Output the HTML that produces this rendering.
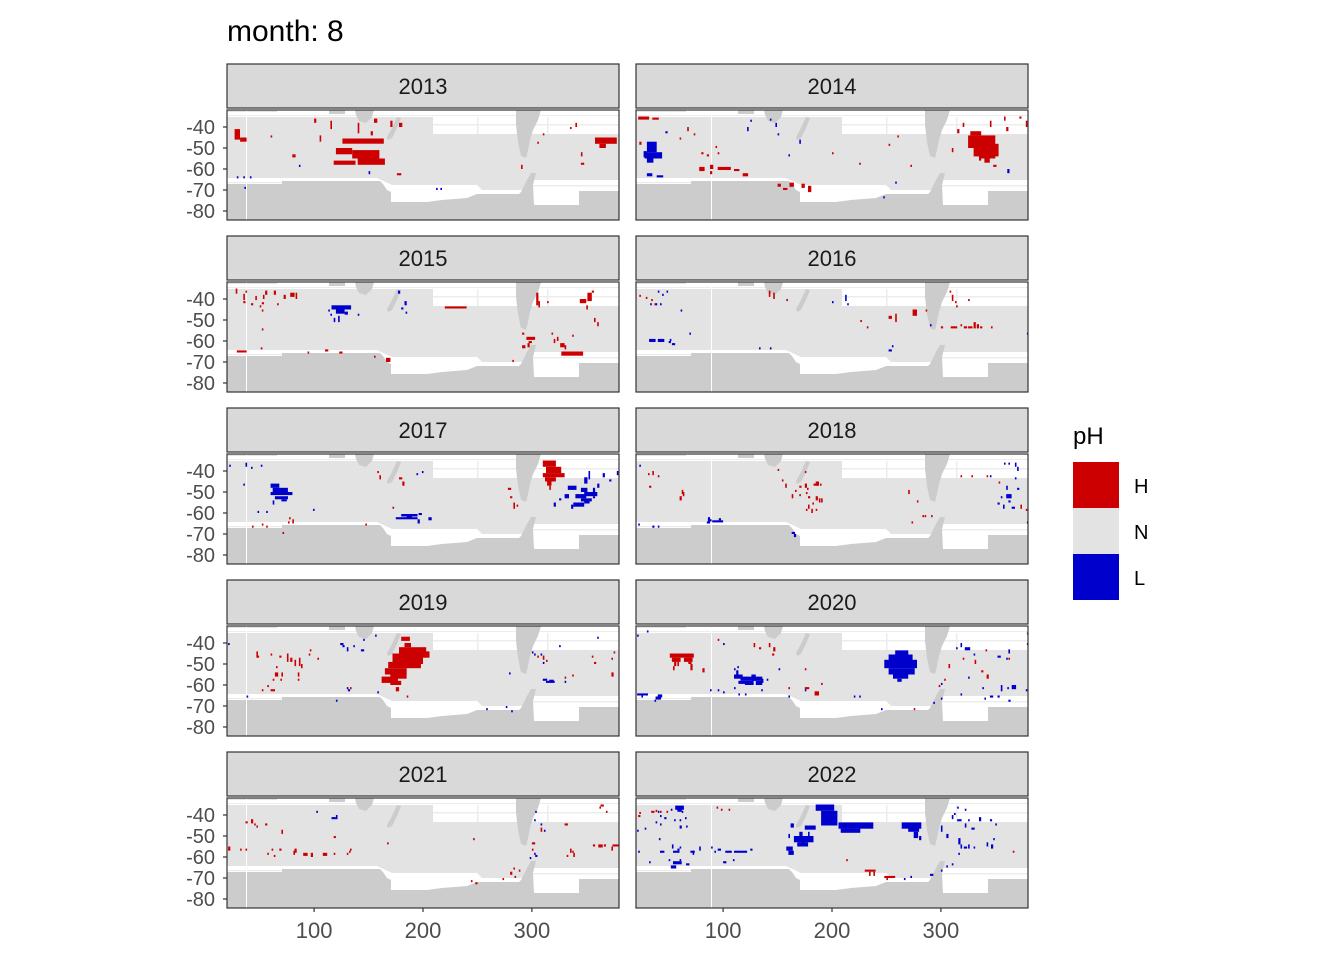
<!DOCTYPE html>
<html><head><meta charset="utf-8"><style>
body{margin:0;background:#fff;}
svg{display:block;font-family:"Liberation Sans",sans-serif;}
</style></head><body>
<svg id="chart" width="1344" height="960" viewBox="0 0 1344 960">
<text x="227" y="41" font-size="30" fill="#000">month: 8</text>
<g id="panels"></g>
<g>
<text x="1073" y="444" font-size="24" fill="#000">pH</text>
<rect x="1073" y="462" width="46" height="46" fill="#cc0000"/>
<rect x="1073" y="508" width="46" height="46" fill="#e3e3e3"/>
<rect x="1073" y="554" width="46" height="46" fill="#0000cc"/>
<text x="1134" y="493" font-size="20" fill="#000">H</text>
<text x="1134" y="539" font-size="20" fill="#000">N</text>
<text x="1134" y="585" font-size="20" fill="#000">L</text>
</g>
</svg>
<script>
const years = [2013,2014,2015,2016,2017,2018,2019,2020,2021,2022];
const yTicks = [-40,-50,-60,-70,-80];
const xTicks = [100,200,300];
// high-pH cells per panel: [lon, topLat, widthDeg, heightDeg]
const high2013 = [[27,-41,5,5],[32,-45,6,2],[126,-45.5,38,2.5],[120,-50,15,3],[135,-51,25,4],[118,-56,20,2],[140,-55,25,3],[100,-36,2,2],[115,-37,1,4],[140,-38,1,5],[155,-36,3,2],[170,-37,2,3],[178,-38,3,2],[152,-42,2,2],[358,-45,20,3],[362,-48,6,2],[80,-53,3,1.5],[176,-62,4,1],[105,-44,1,3],[60,-44,1,1],[310,-43,1,1],[305,-47,1,1],[345,-52,1,2],[290,-58,1,2],[345,-57,3,1],[340,-38,1,2],[335,-40,1,1]];
const low2013 = [[29,-63.5,1.5,1],[35,-63.5,1.5,1],[41,-63.5,1.5,1],[36,-68.5,1,1],[86,-58,1.5,1],[150,-61,1.5,1.5],[212,-69,1,1],[216,-69,1,1]];
const high2014 = [[325,-44,25,6],[330,-48,23,6],[335,-52,15,3],[340,-55,5,2],[327,-42,10,2],[315,-41,2,2],[360,-40,2,2],[358,-35,1,2],[378,-37,1,3],[320,-38,1,2],[345,-37,1,3],[310,-50,1,2],[335,-54,2,2],[348,-58,3,1],[372,-35,2,1],[22,-35,10,1.5],[35,-35.5,6,1],[23,-47,2,1.5],[78,-59,5,2],[88,-58,3,2],[95,-59,12,1.5],[110,-60,5,1],[118,-62,5,1.5],[88,-61,2,1.5],[150,-67,3,1.5],[155,-69,4,1],[161,-66.5,4,2],[172,-67,3,2],[178,-68,3,3],[80,-52,2,1],[85,-53,2,1],[73,-43,1,1],[60,-45,1,1],[67,-40,1,2],[93,-49,1,1],[95,-52,1,1],[200,-52,1,1],[225,-57,1,1],[260,-44,1,1],[272,-58,1,1],[252,-48,1,1]];
const low2014 = [[30,-47,9,5],[28,-52,16,3],[30,-55,6,2],[27,-51.5,3,3],[30,-62,5,1.5],[39,-63,6,1],[47,-42,2,1],[143,-36,1,1],[148,-38,1,2],[150,-43,1,1],[125,-36.5,1,1],[122,-40,1,2],[170,-46,1,2],[160,-53,1,1],[258,-66,1.5,1],[361,-60,2,2],[247,-73,1,1]];
const high2015 = [[28,-35,1.5,2.5],[37,-36,1,1],[35,-37.5,1,3],[46,-38.5,1,2],[53,-38,1,2],[55,-36,2,2],[63,-36,2,2],[72,-38,2,2],[78,-37,4,2],[83,-37,1,3],[35,-41,2,1],[42,-42,2,1],[50,-43,1,1],[52,-41.5,2,1],[66,-42,1,1],[52,-45,1,1],[52,-54,1,1],[220,-43.5,20,1],[304,-37,2,6],[306,-41,1,3],[314,-41,1,1],[344,-40,6,2],[351,-37,4,4],[355,-36,2,1],[350,-43,1,2],[360,-51,1,2],[357,-49,1,2],[291,-56,2,1],[295,-58,8,1.5],[297,-60,3,1],[291,-62,3,1.5],[296,-61,2,2],[323,-58,1,2],[326,-61,4,2],[330,-62,1,2],[327,-65,20,2],[320,-59,1,2],[337,-57,1,1],[318,-56,1,1],[29,-64.5,9,1],[51,-63,1,1],[94,-65,1,1],[110,-64,3,1],[123,-65,3,1],[155,-67,1,1],[166,-68,4,2],[282,-69,1,1]];
const low2015 = [[116,-43,18,2],[120,-45,8,2],[128,-46,3,1.5],[122,-48,1,3],[115,-47,1,1],[140,-47,1.5,1],[113,-45,1,1],[118,-49,1,2],[177,-36,2,1.5],[183,-41,2,2],[180,-44,2,1],[184,-46,1,1]];
const high2016 = [[23,-38,1,1],[29,-39,1,1],[34,-40,1,1],[37,-42,1,1],[142,-36,1,3],[146,-37,1,3],[158,-40,1,1],[274,-45,4,3],[252,-48,3,1.5],[258,-47,1,4],[226,-50,1,1],[232,-53,1,1],[308,-36,1,1],[310,-38,1,3],[325,-40,1,1],[313,-41,1,1],[314,-43,1,1],[286,-45,1,1],[300,-53,2,1],[309,-53,6,1],[318,-52,1,1],[321,-53,3,1],[325,-53,4,1],[330,-51,2,3],[333,-52,2,2],[336,-53,2,1],[346,-53,1,1]];
const low2016 = [[40,-36,1,1],[48,-36,1,1],[44,-37.5,1,1],[33,-42,1,1],[38,-42,1,1],[42,-42,1,1],[61,-45,1,1],[32,-59,4,1.5],[36,-59,2,1.5],[40,-59,6,1.5],[50,-60,2,1],[51,-59,1,1],[53,-61,3,1],[69,-56,1,1],[133,-63,1,1],[143,-63,1,1],[252,-64,3,1],[255,-62,1,1],[290,-52,1,1],[212,-38,1,3],[214,-42,1,1],[200,-41,1,1],[379,-56,1,1]];
const high2017 = [[310,-35,12,3],[313,-38,14,3],[310,-41,20,2],[312,-43,10,2],[314,-45,4,2],[316,-47,1,2],[278,-48,3,1],[280,-52,2,1],[283,-55,1,3],[286,-56,1,1],[160,-42,1,2],[158,-40,1,1],[178,-43,3,1],[181,-45,2,2],[172,-57,1,1],[147,-65,1,1],[80,-63,1,2],[77,-62,1,1],[76,-64,1,1],[52,-65,1,1],[56,-66,1,1],[71,-69,1,1],[43,-66,1,1]];
const low2017 = [[60,-46,8,2],[62,-48,14,2],[60,-50,20,1.5],[64,-52,12,1.5],[70,-53.5,5,1],[62,-54,1,2],[73,-49,1,1],[22,-37,1,1],[37,-36,1,2],[42,-38,1,1],[51,-37,1,1],[35,-46,1,1],[48,-59,1,1],[56,-59,1,1],[99,-58,1,1],[199,-40,1,1],[194,-41,1,1],[180,-60.5,15,1.2],[175,-62,20,1],[185,-61,5,1.5],[195,-63,2,2],[205,-62,3,1.5],[196,-60,3,1],[348,-43,3,3],[352,-40,1,4],[333,-47,8,2],[345,-48,6,2],[340,-51,10,2],[348,-50,12,2],[345,-53,10,1.5],[330,-51,4,2],[338,-55,10,2],[348,-54,5,1.5],[336,-56,2,2],[325,-53,2,1],[320,-55,2,2],[356,-52,2,1],[356,-48,2,2],[360,-46,2,2],[371,-44,2,1],[365,-41,2,2],[378,-40,1,2]];
const high2018 = [[31,-41,1,1],[35,-40,1,2],[40,-42,1,1],[32,-47,2,1],[62,-49,1,2],[63,-50,1,2],[60,-52,2,2],[154,-44,1,1],[157,-46,1,2],[166,-49,1,1],[170,-47,2,1],[175,-46,2,2],[177,-48,1,1],[176,-50,1,1],[163,-51,1,2],[170,-51,1,1],[178,-52,2,1],[183,-46,5,1],[185,-45,3,2],[189,-46,1,1],[178,-56,1,2],[182,-55,1,1],[188,-53,1,2],[190,-53,1,2],[185,-52,2,2],[181,-58,1,2],[176,-58,1,1],[185,-58,1,1],[150,-39,1,1],[175,-40,1,1],[270,-49,1,2],[278,-54,1,1],[285,-61,1,1],[291,-61,1,1],[283,-61,1,1],[318,-42,1,1],[328,-42,1,1],[342,-42,1,1],[353,-45,1,1],[373,-56,1,2],[378,-58,1,1],[273,-64,1,1]];
const low2018 = [[23,-37,1,1],[22,-65,1,1],[35,-66,2,1],[40,-66,1,1],[85,-64,3,1],[88,-63,1,1],[86,-62,2,2],[90,-63.5,10,1],[96,-62.5,2,1],[163,-69,3,1],[165,-70,2,1.5],[358,-36,1,1],[362,-36,1,1],[368,-36,1,2],[370,-38,1,2],[368,-43,1,1],[345,-42,1,1],[360,-47,1,2],[355,-52,1,1],[360,-51,5,2],[370,-48,2,1],[362,-54,2,1],[352,-55,2,1],[357,-56,1,2],[365,-57,3,1],[379,-64,1,1]];
const high2019 = [[180,-37,8,2],[183,-40,6,2],[178,-42,25,3],[172,-45,28,5],[168,-49,30,3],[165,-52,20,3],[170,-55,15,2],[162,-56,15,3],[170,-58,10,2],[175,-61,3,2],[188,-44,18,3],[195,-47,5,2],[47,-44,1,3],[48,-46,1,1],[60,-45,1,1],[68,-46,2,1],[75,-45,1,4],[78,-47,2,2],[82,-48,1,3],[86,-47,1,4],[88,-50,1,2],[65,-51,1,1],[64,-54,3,2],[70,-54,1,2],[85,-54,1,2],[95,-45,1,1],[96,-43,1,1],[103,-47,1,1],[62,-57,1,1],[60,-62,4,1],[57,-60,1,1],[85,-57,1,1],[69,-57,1,1],[305,-46,1,1],[310,-46,1,2],[313,-48,1,1],[330,-56,1,1],[337,-55,1,1],[355,-46,1,1],[357,-49,2,1],[373,-47,1,1],[375,-44,1,1],[373,-54,2,2],[52,-62,1,1],[133,-61,1,1],[185,-65,1,1]];
const low2019 = [[124,-40,3,1],[126,-41,2,1],[130,-42,1,2],[136,-41,1,1],[143,-43,3,1],[145,-38,1,1],[156,-36,1,1],[360,-37,1,1],[300,-44,1,1],[302,-45,1,1],[308,-45,1,1],[325,-41,1,1],[310,-49,1,1],[279,-54,1,1],[310,-57,4,1],[313,-58,8,1],[316,-57.5,4,1],[330,-58,1,1],[21,-40,1,1],[38,-65,1,1],[130,-61,1,1],[131,-62,2,1],[120,-67,1,1],[158,-63,1,1],[258,-71,1,1],[276,-70,1,1],[281,-72,1,1]];
const high2020 = [[51,-45,22,2],[53,-47,8,2],[64,-47,8,2],[55,-49,2,2],[68,-49,3,1],[70,-50,2,3],[54,-51,1,2],[58,-49,1,2],[81,-52,2,2],[95,-38,1,1],[128,-40,1,2],[133,-42,2,1],[142,-40,1,2],[146,-42,2,2],[145,-45,2,1],[175,-52,1,1],[160,-61,1,1],[175,-61,4,1],[184,-63,4,2],[190,-59,1,1],[298,-60,1,1],[303,-57,1,1],[307,-50,1,2],[320,-47,1,1],[337,-53,2,1],[342,-55,2,2],[331,-48,1,2],[341,-43,1,1],[362,-47,1,1],[379,-35,1,1],[275,-71,1,1]];
const low2020 = [[258,-43.5,12,2],[252,-45.5,22,3],[248,-48,30,4],[252,-52,24,3],[256,-55,14,2],[260,-57,4,1.5],[112,-53,2,2],[110,-55,8,2],[116,-56,20,2],[126,-55,4,3],[114,-58,14,1.5],[130,-58,6,2],[120,-59,8,1],[135,-57,2,2],[140,-57,1,1],[21,-64,10,1],[25,-65,1,1],[40,-64.5,4,1.5],[38,-65.5,5,1.5],[37,-67,1,1],[21,-36,1,1],[30,-34,1,1],[100,-40,1,1],[110,-52,1,1],[113,-51,1,1],[151,-52,1,1],[88,-62,1,1],[95,-62,1,1],[100,-63,1,1],[110,-61,1,1],[114,-64,1,1],[120,-64,1,1],[135,-62,1,1],[160,-65,1,1],[175,-62,1,1],[220,-65,1,1],[225,-65,1,1],[245,-71,1,1],[314,-42,1,1],[318,-40,1,2],[322,-42,5,1.5],[330,-45,1,1],[352,-46,3,1],[360,-47,1,1],[362,-43,1,2],[379,-40,1,1],[325,-56,1,1],[338,-61,1,1],[345,-65,3,1],[355,-60,1,3],[352,-65,2,1],[361,-61,1,1],[365,-60,4,2],[378,-62,1,1],[362,-67,2,1],[318,-64,1,1],[340,-66,1,1],[300,-66,1,1],[300,-59,1,1],[293,-68,1,1]];
const high2021 = [[37,-43,2,1],[42,-42,2,2],[45,-44,1,1],[47,-45,1,1],[55,-44,2,1],[70,-47,1,2],[118,-50,2,1],[133,-56,1,1],[21,-55,2,2],[32,-56,1,1],[37,-56,1,1],[68,-56,2,1],[82,-56,2,2],[81,-57,1,2],[90,-58,4,1.5],[97,-58,2,2],[108,-58,4,1.5],[118,-58,1,1],[130,-58,1,1],[61,-56,1,1],[57,-58,1,1],[63,-59,1,1],[167,-53,1,1],[132,-57,1,1],[330,-44,3,1],[308,-46,1,2],[246,-51,1,1],[300,-53,3,1],[300,-56,1,1],[363,-35,3,1],[362,-36,1,1],[368,-38,1,1],[361,-54,4,1.5],[356,-54,2,1],[366,-54,2,1],[374,-54,6,1],[373,-55,1,2],[335,-56,1,2],[337,-57,1,1],[332,-59,1,1],[338,-58,1,2],[280,-67,2,1.5],[283,-65,1,1],[288,-66,1,1],[244,-71,1,1],[248,-72,2,1],[273,-70,1,1],[284,-69,1,1]];
const low2021 = [[102,-38,1,1],[116,-41,4,1],[120,-40,1,2],[303,-38,1,1],[302,-42,1,1],[308,-44,1,1],[311,-47,1,1],[303,-59,2,1],[302,-58,1,1],[298,-60,1,1]];
const high2022 = [[23,-38.5,1,1],[22,-40,2,1],[34,-38,3,1],[38,-37.5,1,1],[42,-38,1,1],[48,-38,1,1],[94,-36,1,1],[98,-37,1,1],[105,-37,1,1],[213,-61,1,1],[230,-66,10,1],[234,-67,1,2],[238,-67,1,2],[248,-69,10,1],[250,-70,1,1],[366,-57,1,1]];
const low2022 = [[185,-35,17,3],[190,-38,15,7],[206,-43.5,32,3],[208,-46.5,18,2],[162,-44,3,2],[175,-45,10,2],[170,-48,3,2],[165,-50,18,3],[168,-53,10,2],[158,-55,6,2],[160,-57,5,2],[172,-51,3,3],[160,-49,1,2],[178,-48,1,2],[264,-43.5,18,3],[270,-46,10,2],[275,-48,4,3],[280,-50,2,2],[56,-35.5,8,2],[58,-37,4,1.5],[62,-38,1,1],[52,-37,1,1],[40,-38,1,1],[42,-40,1,1],[46,-41,2,1],[55,-42,1,1],[65,-41,1,1],[60,-42,1,1],[38,-43,1,1],[42,-44,1,1],[60,-45,2,1.5],[66,-45,1,1],[21,-47,1,1],[28,-46,1,1],[41,-51,1,1],[53,-54,1,2],[60,-55,1,1],[54,-57,6,1],[42,-57,4,1],[58,-56,2,1],[70,-57,4,1],[78,-55,1,2],[72,-57,1,2],[89,-55,1,1],[92,-57,1,1],[102,-57,6,1],[110,-57,12,1],[95,-56,3,1],[125,-56,2,1],[50,-61,1,1],[54,-62,8,1.5],[60,-61,1,1],[66,-63,3,1],[52,-64,5,1.5],[100,-62,3,1],[109,-61,1,1],[22,-57,1,1],[32,-62,1,1],[310,-40,1,2],[315,-42,4,1],[322,-44,1,2],[325,-42,1,1],[335,-41,2,2],[328,-46,3,1],[345,-42,2,1],[350,-44,1,1],[300,-45,1,3],[305,-49,2,2],[316,-51,2,3],[318,-54,1,2],[321,-55,3,1],[325,-54,1,2],[330,-55,1,1],[342,-53,1,2],[346,-54,2,2],[316,-58,1,1],[310,-63,1,1],[305,-64,1,1],[300,-66,1,1],[290,-68,3,1],[272,-69,1,1],[266,-70,1,1],[348,-51,1,1],[315,-36,1,1],[322,-37,1,1],[312,-39,1,1]];
const highCells = [high2013,high2014,high2015,high2016,high2017,high2018,high2019,high2020,high2021,high2022];
const lowCells = [low2013,low2014,low2015,low2016,low2017,low2018,low2019,low2020,low2021,low2022];

const NS='http://www.w3.org/2000/svg';
const PW=392, PH=110, LON0=20, LON1=380, LAT0=-31.9, LAT1=-84.3;
const xs = lon => (lon-LON0)/(LON1-LON0)*PW;
const ys = lat => (LAT0-lat)/(LAT0-LAT1)*PH;
function mk(tag, attrs, parent){const e=document.createElementNS(NS,tag);for(const k in attrs)e.setAttribute(k,attrs[k]);parent.appendChild(e);return e;}
const root=document.getElementById('panels');

years.forEach((yr,i)=>{
  const col=i%2,row=Math.floor(i/2);
  const px=col===0?227:636, sy=64+row*172, py=sy+46;
  const g=mk('g',{transform:`translate(${px},${py})`},root);
  
  
  const st=mk('rect',{x:px,y:sy,width:PW,height:44,fill:'#d9d9d9',stroke:'#333',"stroke-width":1.2},root);
  
  
  const stt=mk('text',{x:px+PW/2,y:sy+30,"text-anchor":"middle","font-size":"22",fill:'#1a1a1a'},root);
  stt.textContent=yr;
  
  
  const bm=mk('g',{},g);
  
  
  mk('rect',{x:0,y:0,width:PW,height:PH,fill:'#e3e3e3'},bm);
  mk('rect',{x:0,y:0,width:PW,height:7,fill:'#fff'},bm);
  mk('rect',{x:0,y:5,width:PW,height:1,fill:'#ececec'},bm);
  mk('rect',{x:0,y:0,width:50,height:2,fill:'#e3e3e3'},bm);
  mk('rect',{x:206,y:7,width:186,height:17,fill:'#fff'},bm);
  mk('rect',{x:206,y:14,width:186,height:1.5,fill:'#ececec'},bm);
  mk('rect',{x:250,y:7,width:1.5,height:17,fill:'#ececec'},bm);
  mk('rect',{x:320,y:7,width:1.5,height:17,fill:'#ececec'},bm);
  mk('polygon',{points:'0,68 150,68 165,75 250,75 255,80 300,80 300,70 392,70 392,97 0,97',fill:'#fff'},bm);
  mk('rect',{x:306,y:75,width:86,height:1.5,fill:'#ececec'},bm);
  mk('rect',{x:0,y:72,width:55,height:1.2,fill:'#ececec'},bm);
  mk('polygon',{points:'0,74 55,74 55,71 153,71 156,74 160,80 164,82 164,92 200,92 215,90 240,88 250,84 292,84 294,82 300,70 304,63 309,63 306,75 307,95 352,95 352,81 392,81 392,110 0,110',fill:'#cccccc'},bm);
  mk('rect',{x:102,y:0,width:16,height:4,fill:'#cccccc'},bm);
  mk('polygon',{points:'128,0 147,0 145,7 139,13 132,11 129,5',fill:'#cccccc'},bm);
  mk('polygon',{points:'170,7 174,8 170,18 165,28 161,30 160,27 165,18',fill:'#cccccc'},bm);
  mk('polygon',{points:'289,0 314,0 311,10 306,20 303,30 301,40 299,48 294,46 291,32 289,15',fill:'#cccccc'},bm);
  mk('rect',{x:col===0?19:75,y:0,width:1,height:PH,fill:'#fff'},bm);
  const cg=mk('g',{},g);
  
  
  [[highCells[i],'#cc0000','high'],[lowCells[i],'#0000cc','low']].forEach(([arr,c,nm])=>{
    arr.forEach(d=>{
      const x=xs(d[0]), y=ys(d[1]);
      const w=Math.max(xs(d[0]+d[2])-x,1.6), h=Math.max(ys(d[1]-d[3])-y,2);
      const r=mk('rect',{x:x.toFixed(1),y:y.toFixed(1),width:w.toFixed(1),height:h.toFixed(1),fill:c},cg);
      
      
    });
  });
  const br=mk('rect',{x:0,y:0,width:PW,height:PH,fill:'none',stroke:'#333',"stroke-width":1.2},g);
  
  
  if(col===0){
    yTicks.forEach(t=>{
      const y=py+ys(t);
      mk('line',{x1:px-4,x2:px,y1:y,y2:y,stroke:'#333',"stroke-width":1.2},root);
      const tx=mk('text',{x:px-12,y:y+7,"text-anchor":"end","font-size":"20",fill:'#4d4d4d'},root);
      tx.textContent=t;
      
      
    });
  }
  if(row===4){
    xTicks.forEach(t=>{
      const x=px+xs(t);
      mk('line',{x1:x,x2:x,y1:py+PH,y2:py+PH+4,stroke:'#333',"stroke-width":1.2},root);
      const tx=mk('text',{x:x,y:py+PH+30,"text-anchor":"middle","font-size":"22",fill:'#4d4d4d'},root);
      tx.textContent=t;
      
      
    });
  }
});
</script>
</body></html>
